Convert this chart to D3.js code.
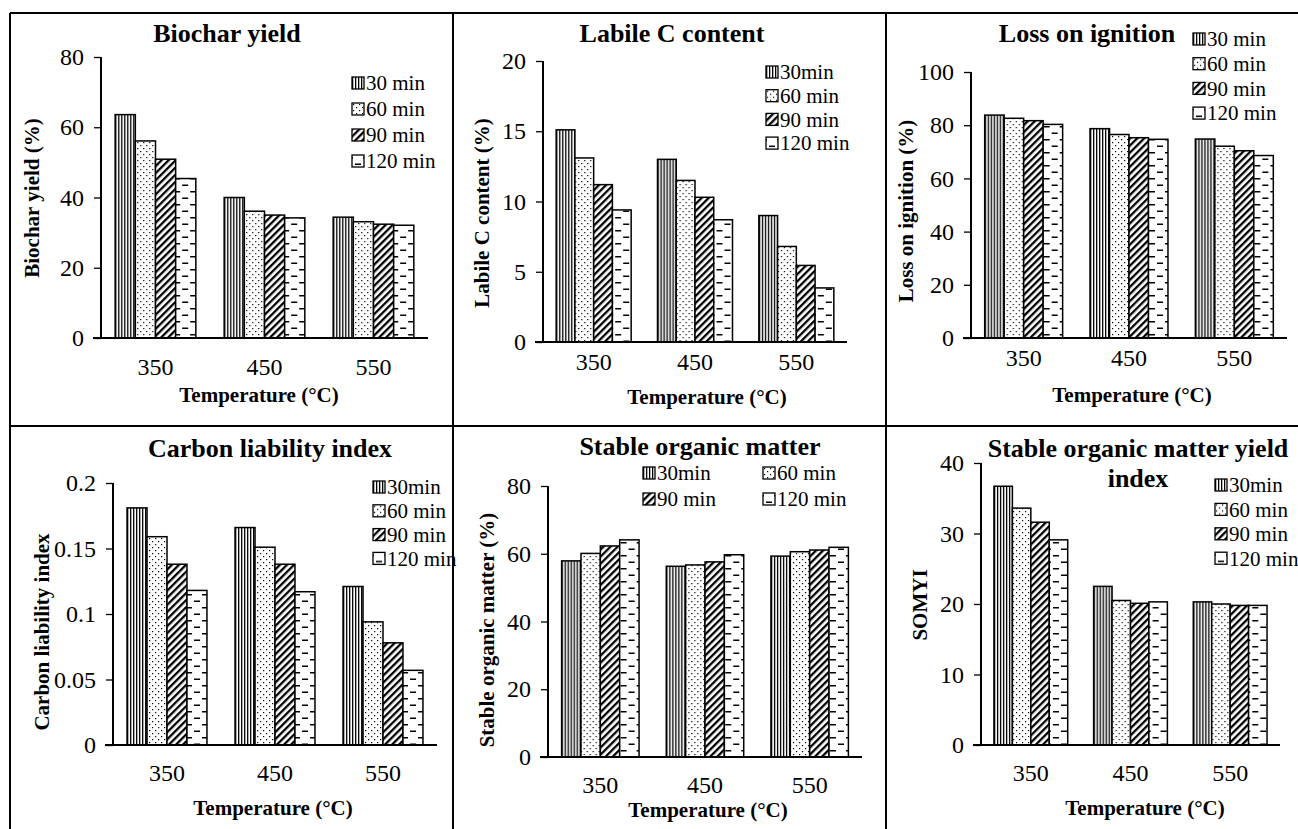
<!DOCTYPE html>
<html>
<head>
<meta charset="utf-8">
<script src="https://cdnjs.cloudflare.com/ajax/libs/d3/7.8.5/d3.min.js"></script>
<style>
  html, body { margin: 0; padding: 0; background: #fff; }
  svg text { font-family: "Liberation Serif", "Times New Roman", serif; fill: #000; }
</style>
</head>
<body>
<svg id="chart" width="1298" height="829"></svg>
<script>
var temperatures = ['350', '450', '550'];
var durations = ['30', '60', '90', '120'];

// values per temperature, in order 30 / 60 / 90 / 120 min
var biocharYield = [[63.6, 56.1, 50.9, 45.4], [40.0, 36.1, 35.0, 34.2], [34.4, 33.1, 32.4, 32.1]];
var labileC = [[15.1, 13.1, 11.2, 9.4], [13.0, 11.5, 10.3, 8.7], [9.0, 6.8, 5.45, 3.85]];
var lossOnIgnition = [[83.8, 82.6, 81.7, 80.3], [78.7, 76.5, 75.3, 74.7], [74.8, 72.1, 70.4, 68.6]];
var carbonLiability = [[0.181, 0.159, 0.138, 0.118], [0.166, 0.151, 0.138, 0.117], [0.121, 0.094, 0.078, 0.057]];
var stableOM = [[57.9, 60.1, 62.3, 64.1], [56.3, 56.7, 57.6, 59.7], [59.3, 60.6, 61.1, 61.9]];
var somyi = [[36.7, 33.6, 31.6, 29.1], [22.5, 20.5, 20.1, 20.3], [20.3, 20.0, 19.8, 19.8]];

var ticksBiochar = [0, 20, 40, 60, 80];
var ticksLabile = [0, 5, 10, 15, 20];
var ticksLoi = [0, 20, 40, 60, 80, 100];
var ticksCli = [0, 0.05, 0.1, 0.15, 0.2];
var ticksSom = [0, 20, 40, 60, 80];
var ticksSomyi = [0, 10, 20, 30, 40];

var legendSpaced = ['30 min', '60 min', '90 min', '120 min'];
var legendTight = ['30min', '60 min', '90 min', '120 min'];

var svg = d3.select('#chart');
var defs = svg.append('defs');

// fill patterns, one per duration
var p30 = defs.append('pattern').attr('id', 'pat30').attr('patternUnits', 'userSpaceOnUse')
  .attr('width', 3).attr('height', 3);
p30.append('rect').attr('width', 3).attr('height', 3).attr('fill', '#fff');
p30.append('rect').attr('x', 0).attr('width', 1.3).attr('height', 3).attr('fill', '#000');

var p60 = defs.append('pattern').attr('id', 'pat60').attr('patternUnits', 'userSpaceOnUse')
  .attr('width', 6).attr('height', 6);
p60.append('rect').attr('width', 6).attr('height', 6).attr('fill', '#fff');
p60.append('rect').attr('x', 1).attr('y', 1).attr('width', 1.2).attr('height', 1.2).attr('fill', '#000');
p60.append('rect').attr('x', 4).attr('y', 4).attr('width', 1.2).attr('height', 1.2).attr('fill', '#000');

var p90 = defs.append('pattern').attr('id', 'pat90').attr('patternUnits', 'userSpaceOnUse')
  .attr('width', 5).attr('height', 5).attr('patternTransform', 'rotate(45)');
p90.append('rect').attr('width', 5).attr('height', 5).attr('fill', '#fff');
p90.append('rect').attr('width', 2.3).attr('height', 5).attr('fill', '#000');

var p120 = defs.append('pattern').attr('id', 'pat120').attr('patternUnits', 'userSpaceOnUse')
  .attr('width', 16).attr('height', 13);
p120.append('rect').attr('width', 16).attr('height', 13).attr('fill', '#fff');
p120.append('rect').attr('x', 3).attr('y', 2.5).attr('width', 6).attr('height', 1.5).attr('fill', '#000');
p120.append('rect').attr('x', 11).attr('y', 9).attr('width', 5).attr('height', 1.5).attr('fill', '#000');
p120.append('rect').attr('x', 0).attr('y', 9).attr('width', 1).attr('height', 1.5).attr('fill', '#000');

var patternFor = function(i) { return 'url(#pat' + durations[i] + ')'; };

var panels = [
  { data: biocharYield, ticks: ticksBiochar, left: 101, right: 428, top: 57, bottom: 338,
    title: ['Biochar yield'], tx: 227, ty: 33, ytitle: 'Biochar yield (%)', yx: 32, yy: 198,
    xlabY: 367, xtitleX: 259, xtitleY: 395,
    legend: legendSpaced, lx: 352, ly: 83, lstep: 26, cols: 1 },
  { data: labileC, ticks: ticksLabile, left: 543, right: 847, top: 61, bottom: 342,
    title: ['Labile C content'], tx: 672, ty: 33, ytitle: 'Labile C content (%)', yx: 482, yy: 213,
    xlabY: 362, xtitleX: 707, xtitleY: 397,
    legend: legendTight, lx: 766, ly: 72, lstep: 23.7, cols: 1 },
  { data: lossOnIgnition, ticks: ticksLoi, left: 971, right: 1287, top: 72, bottom: 338,
    title: ['Loss on ignition'], tx: 1087, ty: 33, ytitle: 'Loss on ignition (%)', yx: 906, yy: 211,
    xlabY: 358, xtitleX: 1132, xtitleY: 395,
    legend: legendSpaced, lx: 1193, ly: 39, lstep: 24.7, cols: 1 },
  { data: carbonLiability, ticks: ticksCli, left: 113, right: 437, top: 483, bottom: 745,
    title: ['Carbon liability index'], tx: 270, ty: 448, ytitle: 'Carbon liability index', yx: 42, yy: 632,
    xlabY: 773, xtitleX: 273, xtitleY: 808,
    legend: legendTight, lx: 373, ly: 487, lstep: 23.8, cols: 1 },
  { data: stableOM, ticks: ticksSom, left: 548, right: 862, top: 486, bottom: 757,
    title: ['Stable organic matter'], tx: 700, ty: 446, ytitle: 'Stable organic matter (%)', yx: 487, yy: 630,
    xlabY: 785, xtitleX: 708, xtitleY: 810,
    legend: legendTight, lx: 643, ly: 473, lstep: 26, cols: 2, colStep: 120 },
  { data: somyi, ticks: ticksSomyi, left: 981, right: 1280, top: 463, bottom: 745,
    title: ['Stable organic matter yield', 'index'], tx: 1138, ty: 448, ytitle: 'SOMYI', yx: 920, yy: 605,
    xlabY: 773, xtitleX: 1145, xtitleY: 808,
    legend: legendTight, lx: 1215, ly: 485, lstep: 24.4, cols: 1 }
];

panels.forEach(function(p) {
  var g = svg.append('g');

  var x0 = d3.scaleBand().domain(temperatures).range([p.left, p.right])
    .paddingInner(0.26).paddingOuter(0.13);
  var x1 = d3.scaleBand().domain(d3.range(durations.length)).range([0, x0.bandwidth()]);
  var y = d3.scaleLinear().domain([0, d3.max(p.ticks)]).range([p.bottom, p.top]);

  // bars
  g.selectAll('g.group')
    .data(p.data)
    .join('g')
      .attr('class', 'group')
      .attr('transform', function(d, i) { return 'translate(' + x0(temperatures[i]) + ',0)'; })
    .selectAll('rect')
    .data(function(d) { return d; })
    .join('rect')
      .attr('x', function(d, i) { return x1(i); })
      .attr('y', function(d) { return y(d); })
      .attr('width', x1.bandwidth())
      .attr('height', function(d) { return y(0) - y(d); })
      .attr('fill', function(d, i) { return patternFor(i); })
      .attr('stroke', '#000')
      .attr('stroke-width', 1.5);

  // y axis
  var yAxis = g.append('g')
    .attr('transform', 'translate(' + p.left + ',0)')
    .call(d3.axisLeft(y).tickValues(p.ticks).tickSize(7).tickPadding(10)
      .tickFormat(function(v) { return String(v); }));
  yAxis.select('.domain').attr('stroke-width', 2).attr('d', 'M0,' + p.top + 'V' + p.bottom);
  yAxis.selectAll('.tick line').attr('stroke-width', 1.3);
  yAxis.selectAll('.tick text').style('font-size', '24px')
    .style('font-family', '"Liberation Serif", "Times New Roman", serif');

  // x axis, no ticks
  var xAxis = g.append('g')
    .attr('transform', 'translate(0,' + p.bottom + ')')
    .call(d3.axisBottom(x0).tickSize(0).tickPadding(0));
  xAxis.select('.domain').attr('stroke-width', 2).attr('d', 'M' + (p.left - 8) + ',0H' + p.right);
  xAxis.selectAll('.tick text')
    .attr('y', p.xlabY - p.bottom)
    .attr('dy', '0.35em')
    .style('font-size', '24px')
    .style('font-family', '"Liberation Serif", "Times New Roman", serif');

  // titles
  g.selectAll('text.title')
    .data(p.title)
    .join('text')
      .attr('class', 'title')
      .attr('x', p.tx)
      .attr('y', function(d, i) { return p.ty + i * 30; })
      .attr('dy', '0.35em')
      .attr('text-anchor', 'middle')
      .style('font-size', '26px')
      .style('font-weight', 'bold')
      .text(function(d) { return d; });

  g.append('text')
    .attr('transform', 'translate(' + p.yx + ',' + p.yy + ') rotate(-90)')
    .attr('dy', '0.35em')
    .attr('text-anchor', 'middle')
    .style('font-size', '21px')
    .style('font-weight', 'bold')
    .text(p.ytitle);

  g.append('text')
    .attr('x', p.xtitleX)
    .attr('y', p.xtitleY)
    .attr('dy', '0.35em')
    .attr('text-anchor', 'middle')
    .style('font-size', '21px')
    .style('font-weight', 'bold')
    .text('Temperature (°C)');

  // legend
  var items = g.selectAll('g.legend')
    .data(p.legend)
    .join('g')
      .attr('class', 'legend')
      .attr('transform', function(d, i) {
        var col = p.cols === 2 ? i % 2 : 0,
            row = p.cols === 2 ? Math.floor(i / 2) : i;
        return 'translate(' + (p.lx + col * (p.colStep || 0)) + ',' + (p.ly + row * p.lstep) + ')';
      });
  items.append('rect')
    .attr('x', 0).attr('y', -6)
    .attr('width', 12).attr('height', 12)
    .attr('fill', function(d, i) { return patternFor(i); })
    .attr('stroke', '#000')
    .attr('stroke-width', 1.3);
  items.append('text')
    .attr('x', 14)
    .attr('dy', '0.35em')
    .style('font-size', '21px')
    .text(function(d) { return d; });
});

// panel frame
var frame = svg.append('g').attr('stroke', '#000').attr('stroke-width', 2);
frame.append('line').attr('x1', 10).attr('x2', 1298).attr('y1', 13).attr('y2', 13);
frame.append('line').attr('x1', 10).attr('x2', 1298).attr('y1', 426).attr('y2', 426);
frame.append('line').attr('x1', 10).attr('x2', 10).attr('y1', 13).attr('y2', 829);
frame.append('line').attr('x1', 453).attr('x2', 453).attr('y1', 13).attr('y2', 829);
frame.append('line').attr('x1', 886).attr('x2', 886).attr('y1', 13).attr('y2', 829);
</script>
</body>
</html>
